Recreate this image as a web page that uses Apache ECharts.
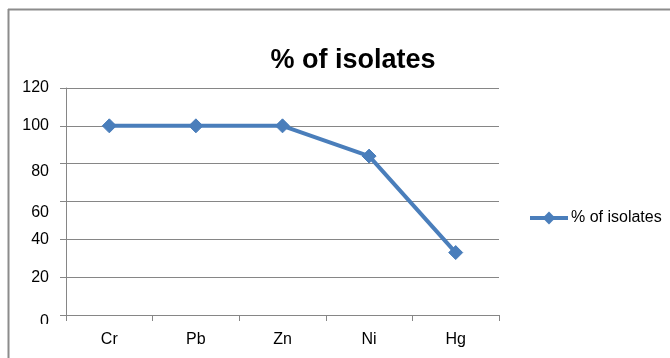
<!DOCTYPE html>
<html>
<head>
<meta charset="utf-8">
<script src="https://cdn.jsdelivr.net/npm/echarts@6/dist/echarts.min.js"></script>
<style>
  html, body { margin: 0; padding: 0; background: #fff; }
  #chart { width: 670px; height: 358px; }
</style>
</head>
<body>
<div id="chart"></div>
<script>
// Metals tested and the share of isolates tolerant to each
const metals = ['Cr', 'Pb', 'Zn', 'Ni', 'Hg'];
const isolatePercent = [100, 100, 100, 84, 33];
const seriesName = '% of isolates';

const FONT = '"Liberation Sans", "DejaVu Sans", sans-serif';
const GREY = '#868686';
const BLUE = '#4A7EBB';

// some value labels sit a little below their gridline (downward shift in px)
const labelDrop = { 80: 8, 60: 11, 0: 7 };

const chart = echarts.init(document.getElementById('chart'), null, { renderer: 'canvas' });

const richStyles = {};
Object.keys(labelDrop).forEach(k => {
  richStyles['d' + k] = { fontFamily: FONT, fontSize: 16, color: '#000', padding: [labelDrop[k] * 2, 0, 0, 0] };
});

chart.setOption({
  animation: false,
  backgroundColor: '#fff',
  title: {
    text: seriesName,
    left: 348,
    textAlign: 'center',
    top: 42,
    textStyle: { fontFamily: FONT, fontSize: 27, fontWeight: 'bold', color: '#000' }
  },
  legend: {
    left: 523,
    top: 205,
    itemWidth: 38,
    itemHeight: 16,
    itemGap: 4,
    data: [seriesName],
    lineStyle: { width: 4, color: BLUE },
    itemStyle: { color: BLUE },
    textStyle: { fontFamily: FONT, fontSize: 16, color: '#000', padding: [0, 0, 0, -2] }
  },
  grid: { left: 66, right: 171, top: 88, bottom: 43, containLabel: false },
  xAxis: {
    type: 'category',
    data: metals,
    boundaryGap: true,
    axisLine: { lineStyle: { color: GREY, width: 1 } },
    axisTick: { show: true, length: 6, lineStyle: { color: GREY } },
    axisLabel: { fontFamily: FONT, fontSize: 16, color: '#000', margin: 17 },
    splitLine: { show: false }
  },
  yAxis: {
    type: 'value',
    min: 0,
    max: 120,
    interval: 20,
    axisLine: { show: true, lineStyle: { color: GREY, width: 1 } },
    axisTick: { show: true, length: 6, lineStyle: { color: GREY } },
    axisLabel: {
      fontFamily: FONT, fontSize: 16, color: '#000', margin: 17,
      formatter: v => labelDrop[v] !== undefined ? '{d' + v + '|' + v + '}' : String(v),
      rich: richStyles
    },
    splitLine: { show: true, lineStyle: { color: GREY, width: 1 } }
  },
  series: [{
    name: seriesName,
    type: 'line',
    data: isolatePercent,
    symbol: 'diamond',
    symbolSize: 14,
    lineStyle: { color: BLUE, width: 4 },
    itemStyle: { color: BLUE, borderColor: BLUE },
    z: 3
  }],
  graphic: [
    // chart frame: left and top edges
    { type: 'line', shape: { x1: 8.5, y1: 9, x2: 8.5, y2: 358 }, style: { stroke: '#8c8c8c', lineWidth: 2 } },
    { type: 'line', shape: { x1: 8, y1: 9.5, x2: 670, y2: 9.5 }, style: { stroke: '#8c8c8c', lineWidth: 2 } },
    // the bottom of the value-axis label column is cut off
    { type: 'rect', shape: { x: 12, y: 324, width: 46, height: 34 }, style: { fill: '#fff' }, z: 100 }
  ]
});
</script>
</body>
</html>
